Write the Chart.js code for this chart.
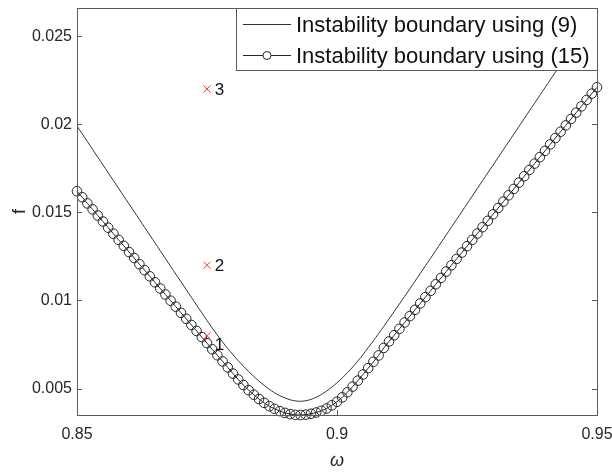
<!DOCTYPE html>
<html>
<head>
<meta charset="utf-8">
<script src="https://cdn.jsdelivr.net/npm/chart.js@4.4.0/dist/chart.umd.min.js"></script>
<style>
    html, body { margin: 0; padding: 0; background: #fff; }
    #wrap { width: 612px; height: 474px; }
</style>
</head>
<body>
<div id="wrap"><canvas id="chart" width="612" height="474"></canvas></div>
<script>
        // Instability boundary using (9)
        const omega9 = [
            0.850, 0.852, 0.854, 0.856, 0.858, 0.860, 0.862, 0.864, 0.866, 0.868,
            0.870, 0.872, 0.874, 0.876, 0.878, 0.880, 0.882, 0.884, 0.886, 0.888,
            0.890, 0.892, 0.894, 0.896, 0.898, 0.900, 0.902, 0.904, 0.906, 0.908,
            0.910, 0.912, 0.914, 0.916, 0.918, 0.920, 0.922, 0.924, 0.926, 0.928,
            0.930, 0.932, 0.934, 0.936, 0.938, 0.940, 0.942, 0.944, 0.946, 0.948,
            0.950
        ];
        const f9 = [
            0.01990, 0.01902, 0.01813, 0.01725, 0.01636, 0.01548, 0.01460, 0.01371, 0.01283, 0.01194,
            0.01106, 0.01018, 0.00930, 0.00844, 0.00764, 0.00692, 0.00627, 0.00569, 0.00518, 0.00476,
            0.00447, 0.00430, 0.00431, 0.00451, 0.00486, 0.00533, 0.00590, 0.00656, 0.00732, 0.00812,
            0.00895, 0.00980, 0.01066, 0.01153, 0.01240, 0.01328, 0.01416, 0.01504, 0.01592, 0.01680,
            0.01768, 0.01856, 0.01944, 0.02032, 0.02120, 0.02208, 0.02296, 0.02384, 0.02472, 0.02560,
            0.02648
        ];

        // Instability boundary using (15) - one marker per omega
        const omega15 = [
            0.850, 0.851, 0.852, 0.853, 0.854, 0.855, 0.856, 0.857, 0.858, 0.859,
            0.860, 0.861, 0.862, 0.863, 0.864, 0.865, 0.866, 0.867, 0.868, 0.869,
            0.870, 0.871, 0.872, 0.873, 0.874, 0.875, 0.876, 0.877, 0.878, 0.879,
            0.880, 0.881, 0.882, 0.883, 0.884, 0.885, 0.886, 0.887, 0.888, 0.889,
            0.890, 0.891, 0.892, 0.893, 0.894, 0.895, 0.896, 0.897, 0.898, 0.899,
            0.900, 0.901, 0.902, 0.903, 0.904, 0.905, 0.906, 0.907, 0.908, 0.909,
            0.910, 0.911, 0.912, 0.913, 0.914, 0.915, 0.916, 0.917, 0.918, 0.919,
            0.920, 0.921, 0.922, 0.923, 0.924, 0.925, 0.926, 0.927, 0.928, 0.929,
            0.930, 0.931, 0.932, 0.933, 0.934, 0.935, 0.936, 0.937, 0.938, 0.939,
            0.940, 0.941, 0.942, 0.943, 0.944, 0.945, 0.946, 0.947, 0.948, 0.949,
            0.950
        ];
        const f15 = [
            0.01620, 0.01586, 0.01551, 0.01517, 0.01482, 0.01448, 0.01413, 0.01379, 0.01344, 0.01310,
            0.01275, 0.01241, 0.01206, 0.01172, 0.01137, 0.01103, 0.01068, 0.01034, 0.00999, 0.00965,
            0.00930, 0.00896, 0.00861, 0.00827, 0.00792, 0.00758, 0.00723, 0.00689, 0.00654, 0.00620,
            0.00585, 0.00552, 0.00520, 0.00491, 0.00465, 0.00441, 0.00419, 0.00400, 0.00385, 0.00372,
            0.00362, 0.00355, 0.00351, 0.00350, 0.00352, 0.00357, 0.00364, 0.00374, 0.00387, 0.00405,
            0.00425, 0.00450, 0.00479, 0.00511, 0.00545, 0.00580, 0.00616, 0.00652, 0.00688, 0.00731,
            0.00767, 0.00803, 0.00839, 0.00875, 0.00911, 0.00947, 0.00983, 0.01019, 0.01055, 0.01092,
            0.01128, 0.01164, 0.01200, 0.01236, 0.01272, 0.01308, 0.01344, 0.01380, 0.01416, 0.01452,
            0.01489, 0.01525, 0.01561, 0.01597, 0.01633, 0.01669, 0.01705, 0.01741, 0.01777, 0.01813,
            0.01849, 0.01886, 0.01922, 0.01958, 0.01994, 0.02030, 0.02066, 0.02102, 0.02138, 0.02174,
            0.02210
        ];

        // Test points 1, 2, 3
        const testOmega = [0.875, 0.875, 0.875];
        const testF = [0.0080, 0.0120, 0.0220];
        const testNames = ['1', '2', '3'];
        const testNameOmega = [0.8765, 0.8765, 0.8765];
        const testNameF = [0.00744, 0.01193, 0.02193];

        // Axes
        const xTicks = [0.85, 0.9, 0.95];
        const xTickLabels = ['0.85', '0.9', '0.95'];
        const yTicks = [0.005, 0.01, 0.015, 0.02, 0.025];
        const yTickLabels = ['0.005', '0.01', '0.015', '0.02', '0.025'];

        const FONT = "'Liberation Sans', Arial, Helvetica, sans-serif";
        const TEXT = '#262626';
        const AXIS = '#5a5a5a';

        function toPoints(xs, ys) {
            return xs.map((x, i) => ({ x: x, y: ys[i] }));
        }

        // box round the plot with inward ticks, like MATLAB
        const framePlugin = {
            id: 'frame',
            afterDatasetsDraw(chart) {
                const ctx = chart.ctx;
                const a = chart.chartArea;
                const xs = chart.scales.x;
                const ys = chart.scales.y;
                ctx.save();
                ctx.strokeStyle = AXIS;
                ctx.lineWidth = 1;
                ctx.strokeRect(Math.round(a.left) + 0.5, Math.round(a.top) + 0.5,
                    Math.round(a.right - a.left), Math.round(a.bottom - a.top));
                ctx.beginPath();
                xTicks.forEach(v => {
                    const px = Math.round(xs.getPixelForValue(v)) + 0.5;
                    ctx.moveTo(px, a.bottom); ctx.lineTo(px, a.bottom - 5);
                    ctx.moveTo(px, a.top); ctx.lineTo(px, a.top + 5);
                });
                yTicks.forEach(v => {
                    const py = Math.round(ys.getPixelForValue(v)) + 0.5;
                    ctx.moveTo(a.left, py); ctx.lineTo(a.left + 5, py);
                    ctx.moveTo(a.right, py); ctx.lineTo(a.right - 5, py);
                });
                ctx.stroke();
                ctx.restore();
            }
        };

        // legend box inside the top right corner + point names
        const legendPlugin = {
            id: 'boxLegend',
            afterDraw(chart) {
                const ctx = chart.ctx;
                const a = chart.chartArea;
                const ds = chart.data.datasets;
                const bx = 236.5, by = Math.round(a.top) + 0.5;
                const bw = Math.round(a.right) - 236, bh = 62;
                ctx.save();
                ctx.fillStyle = '#fff';
                ctx.fillRect(bx, by, bw, bh);
                ctx.strokeStyle = AXIS;
                ctx.lineWidth = 1;
                ctx.strokeRect(bx, by, bw, bh);

                const rows = [by + 15, by + 46];
                ctx.font = '22px ' + FONT;
                ctx.textBaseline = 'middle';
                ctx.textAlign = 'left';
                [0, 1].forEach(i => {
                    const y = Math.round(rows[i]) + 0.5;
                    ctx.strokeStyle = ds[i].borderColor;
                    ctx.lineWidth = 1;
                    ctx.beginPath();
                    ctx.moveTo(243, y); ctx.lineTo(291, y);
                    ctx.stroke();
                    if (ds[i].pointRadius > 0) {
                        ctx.beginPath();
                        ctx.arc(267, y, 4, 0, Math.PI * 2);
                        ctx.fillStyle = '#fff';
                        ctx.fill();
                        ctx.stroke();
                    }
                    ctx.fillStyle = '#111';
                    ctx.fillText(ds[i].label, 296, y + 1);
                });

                // names of test points
                const xs = chart.scales.x;
                const ys = chart.scales.y;
                ctx.font = '17px ' + FONT;
                ctx.fillStyle = '#111';
                testNames.forEach((t, i) => {
                    ctx.fillText(t, xs.getPixelForValue(testNameOmega[i]), ys.getPixelForValue(testNameF[i]));
                });
                ctx.restore();
            }
        };

        function init() {
            new Chart(document.getElementById('chart'), {
                type: 'line',
                data: {
                    datasets: [
                        {
                            label: 'Instability boundary using (9)',
                            data: toPoints(omega9, f9),
                            borderColor: '#333333',
                            borderWidth: 1,
                            pointRadius: 0,
                            tension: 0.4,
                            fill: false,
                            order: 2
                        },
                        {
                            label: 'Instability boundary using (15)',
                            data: toPoints(omega15, f15),
                            borderColor: '#262626',
                            borderWidth: 1,
                            pointRadius: 4.8,
                            pointStyle: 'circle',
                            pointBorderWidth: 1,
                            pointBackgroundColor: 'rgba(0,0,0,0)',
                            pointBorderColor: '#262626',
                            clip: false,
                            fill: false,
                            order: 1
                        },
                        {
                            label: 'points',
                            data: toPoints(testOmega, testF),
                            showLine: false,
                            pointStyle: 'crossRot',
                            pointRadius: 5,
                            pointBorderWidth: 1,
                            pointBorderColor: '#ff3030',
                            borderColor: '#ff3030',
                            order: 0
                        }
                    ]
                },
                options: {
                    responsive: false,
                    animation: false,
                    devicePixelRatio: 1,
                    layout: { padding: { top: 8, right: 15, left: 0, bottom: 0 } },
                    plugins: {
                        legend: { display: false },
                        tooltip: { enabled: false }
                    },
                    scales: {
                        x: {
                            type: 'linear',
                            min: 0.85,
                            max: 0.95,
                            grid: { display: false, drawTicks: false },
                            border: { display: false },
                            afterBuildTicks: sc => { sc.ticks = xTicks.map(v => ({ value: v })); },
                            afterFit: sc => {
                                sc.height = 59;
                                sc.paddingLeft = 0;
                                sc.paddingRight = 0;
                            },
                            ticks: {
                                padding: 10,
                                color: TEXT,
                                font: { family: FONT, size: 16 },
                                maxRotation: 0,
                                callback: v => xTickLabels[xTicks.indexOf(v)]
                            },
                            title: {
                                display: true,
                                text: 'ω',
                                color: TEXT,
                                font: { family: FONT, size: 18, style: 'italic' },
                                padding: { top: 0, bottom: 2 }
                            }
                        },
                        y: {
                            type: 'linear',
                            min: 0.0035,
                            max: 0.0266,
                            grid: { display: false, drawTicks: false },
                            border: { display: false },
                            afterBuildTicks: sc => { sc.ticks = yTicks.map(v => ({ value: v })); },
                            afterFit: sc => {
                                sc.width = 77;
                                sc.paddingTop = 0;
                                sc.paddingBottom = 0;
                            },
                            ticks: {
                                padding: 5,
                                color: TEXT,
                                font: { family: FONT, size: 16 },
                                callback: v => yTickLabels[yTicks.indexOf(v)]
                            },
                            title: {
                                display: true,
                                text: 'f',
                                color: TEXT,
                                font: { family: FONT, size: 18 },
                                padding: { top: 9, bottom: 0 }
                            }
                        }
                    }
                },
                plugins: [framePlugin, legendPlugin]
            });
        }

        document.addEventListener('DOMContentLoaded', init);
</script>
</body>
</html>
